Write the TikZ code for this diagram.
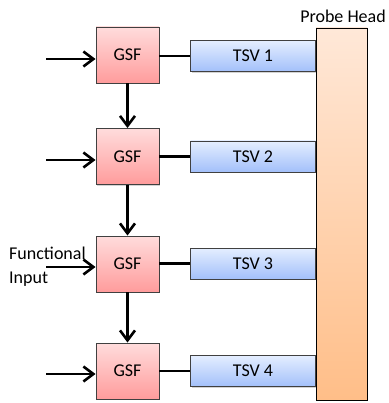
\documentclass[tikz,border=0pt]{standalone}
\usepackage{fontspec}
\setmainfont{Carlito}
\usetikzlibrary{arrows.meta,shadows}
\definecolor{gsftop}{HTML}{FFDCDC}
\definecolor{gsfbot}{HTML}{FF9C9C}
\definecolor{tsvtop}{HTML}{E4EEFF}
\definecolor{tsvbot}{HTML}{A3C0FA}
\definecolor{phtop}{HTML}{FFE8D8}
\definecolor{phbot}{HTML}{FFBE88}
\definecolor{edge}{HTML}{404040}
\tikzset{
  txt/.style={font=\fontsize{18}{22}\selectfont},
  gsfbox/.style={draw=edge, line width=0.9pt, top color=gsftop, bottom color=gsfbot,
    minimum width=63pt, minimum height=56pt, inner sep=0pt, txt,
    drop shadow={shadow xshift=1.2pt, shadow yshift=-1.2pt, opacity=0.35}},
  tsvbox/.style={draw=edge, line width=0.9pt, top color=tsvtop, bottom color=tsvbot,
    minimum width=125pt, minimum height=31pt, inner sep=0pt, txt,
    drop shadow={shadow xshift=1.2pt, shadow yshift=-1.2pt, opacity=0.35}},
  phbox/.style={draw=black, line width=0.9pt, top color=phtop, bottom color=phbot,
    minimum width=51pt, minimum height=372pt, inner sep=0pt,
    drop shadow={shadow xshift=1.2pt, shadow yshift=-1.2pt, opacity=0.35}},
  arr/.style={line width=2.8pt, -{Straight Barb[length=10pt,width=15pt,line width=2.6pt]}},
  wire/.style={line width=2.8pt},
  lbl/.style={txt, inner sep=0pt}
}
\begin{document}
\begin{tikzpicture}[x=1pt,y=-1pt]
\useasboundingbox (0,0) rectangle (388,403);
\node[lbl, anchor=base] (phl) at (343,23) {Probe Head};
% TSVs
\node[tsvbox] (t1) at (253,56) {TSV 1};
\node[tsvbox] (t2) at (253,156.5) {TSV 2};
\node[tsvbox] (t3) at (253,263.5) {TSV 3};
\node[tsvbox] (t4) at (253,371) {TSV 4};
% probe head
\node[phbox] (ph) at (341.5,214) {};
% GSFs
\node[gsfbox] (g1) at (127.5,55) {GSF};
\node[gsfbox] (g2) at (127.5,156.5) {GSF};
\node[gsfbox] (g3) at (127.5,264) {GSF};
\node[gsfbox] (g4) at (127.5,371) {GSF};
% inputs
\coordinate (i1) at (46,59);
\coordinate (i2) at (46,160);
\coordinate (i3) at (46,267);
\coordinate (i4) at (46,374);
\draw[arr] (i1) -- (i1 -| g1.west);
\draw[arr] (i2) -- (i2 -| g2.west);
\draw[arr] (i3) -- (i3 -| g3.west);
\draw[arr] (i4) -- (i4 -| g4.west);
% chain
\draw[arr] (g1.south) -- (g2.north);
\draw[arr] (g2.south) -- (g3.north);
\draw[arr] (g3.south) -- (g4.north);
% to TSVs
\draw[wire] (g1.east |- t1.west) -- (t1.west);
\draw[wire] (g2.east |- t2.west) -- (t2.west);
\draw[wire] (g3.east |- t3.west) -- (t3.west);
\draw[wire] (g4.east |- t4.west) -- (t4.west);
% functional input label
\node[lbl, anchor=base west] (fi1) at (9,259) {Functional};
\node[lbl, anchor=base west] (fi2) at (9,283) {Input};
\end{tikzpicture}
\end{document}
